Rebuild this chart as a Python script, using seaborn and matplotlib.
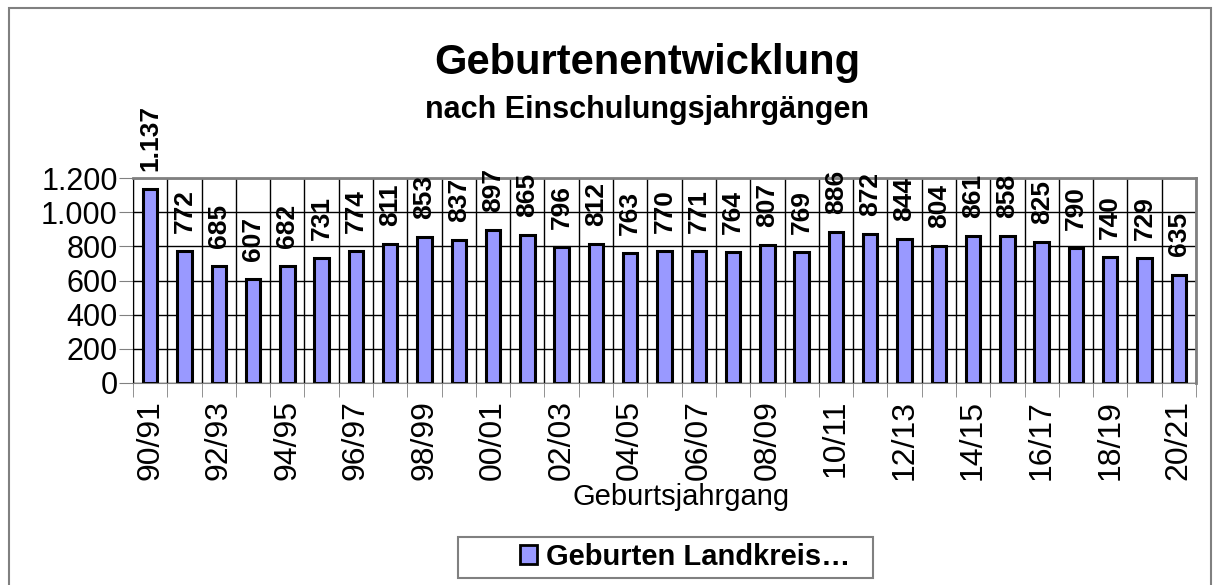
import numpy as np
import pandas as pd
import seaborn as sns
import matplotlib.pyplot as plt
from matplotlib.patches import Rectangle, Patch

# Geburtsjahrgänge 90/91 .. 20/21
jahrgaenge = ['90/91', '91/92', '92/93', '93/94', '94/95', '95/96', '96/97', '97/98',
              '98/99', '99/00', '00/01', '01/02', '02/03', '03/04', '04/05', '05/06',
              '06/07', '07/08', '08/09', '09/10', '10/11', '11/12', '12/13', '13/14',
              '14/15', '15/16', '16/17', '17/18', '18/19', '19/20', '20/21']
geburten = [1137, 772, 685, 607, 682, 731, 774, 811, 853, 837, 897, 865, 796, 812, 763,
            770, 771, 764, 807, 769, 886, 872, 844, 804, 861, 858, 825, 790, 740, 729, 635]
y_ticks = [0, 200, 400, 600, 800, 1000, 1200]
y_tick_labels = ['0', '200', '400', '600', '800', '1.000', '1.200']


def de_format(v):
    return f'{v:,}'.replace(',', '.')


df = pd.DataFrame({'Jahrgang': jahrgaenge, 'Geburten': geburten})

sns.set_style('white')
plt.rcParams['font.family'] = ['Liberation Sans', 'DejaVu Sans']
plt.rcParams['text.color'] = 'black'
plt.rcParams['xtick.color'] = 'black'
plt.rcParams['ytick.color'] = 'black'
plt.rcParams['axes.labelcolor'] = 'black'

fig = plt.figure(figsize=(12.16, 5.85), dpi=100)
ax = fig.add_axes([133 / 1216, 1 - 383 / 585, (1196 - 133) / 1216, (383 - 178) / 585])

sns.barplot(data=df, x='Jahrgang', y='Geburten', color='#9999FF', saturation=1,
            edgecolor='black', linewidth=2.2, width=0.42, ax=ax)

ax.set_xlim(-0.5, len(jahrgaenge) - 0.5)
ax.set_ylim(0, 1200)
ax.set_yticks(y_ticks)
ax.set_yticklabels(y_tick_labels, fontsize=22)
ax.tick_params(axis='y', length=10, color='#808080', pad=1, left=True)

ax.set_xticks(range(len(jahrgaenge)))
ax.set_xticklabels([j if i % 2 == 0 else '' for i, j in enumerate(jahrgaenge)],
                   rotation=90, fontsize=23)
ax.set_xticks(np.arange(-0.5, len(jahrgaenge), 1), minor=True)
ax.tick_params(axis='x', which='major', length=0, pad=12)
ax.tick_params(axis='x', which='minor', length=10, color='#808080', bottom=True)

ax.grid(axis='y', which='major', color='black', linewidth=1)
ax.grid(axis='x', which='minor', color='black', linewidth=1)
ax.set_axisbelow(True)

for side in ['top', 'right']:
    ax.spines[side].set_color('#808080')
    ax.spines[side].set_linewidth(2)
ax.spines['left'].set_color('black')
ax.spines['bottom'].set_color('#808080')

for i, v in enumerate(geburten):
    ax.annotate(de_format(v), (i, v), xytext=(0, 13), textcoords='offset points',
                rotation=90, ha='center', va='bottom', fontsize=19, fontweight='bold',
                annotation_clip=False)

ax.set_ylabel('')
ax.set_xlabel('Geburtsjahrgang', fontsize=21)
ax.xaxis.set_label_coords((681 - 133) / (1196 - 133), -0.49)

fig.text(0.532, 1 - 63 / 585, 'Geburtenentwicklung', ha='center', va='center',
         fontsize=30, fontweight='bold')
fig.text(0.532, 1 - 110 / 585, 'nach Einschulungsjahrgängen', ha='center', va='center',
         fontsize=22, fontweight='bold')

# Legende: Rahmen separat, wie im Original links breiter
handles = [Patch(facecolor='#9999FF', edgecolor='black', linewidth=2)]
leg = fig.legend(handles, ['Geburten Landkreis…'], loc='center',
                 bbox_to_anchor=(685 / 1216, 1 - 557 / 585), frameon=False,
                 prop={'size': 21, 'weight': 'bold'}, handlelength=0.6, handleheight=0.6,
                 handletextpad=0.3, borderpad=0.2, borderaxespad=0)
fig.patches.append(Rectangle((458 / 1216, 1 - 578 / 585), (873 - 458) / 1216, 41 / 585,
                             transform=fig.transFigure, fill=False,
                             edgecolor='#808080', linewidth=1.5))

fig.patches.append(Rectangle((9 / 1216, -0.02), (1211 - 9) / 1216, 1.02 - 8 / 585,
                             transform=fig.transFigure, fill=False,
                             edgecolor='#808080', linewidth=1.5))

plt.savefig('out.png', dpi=100)
